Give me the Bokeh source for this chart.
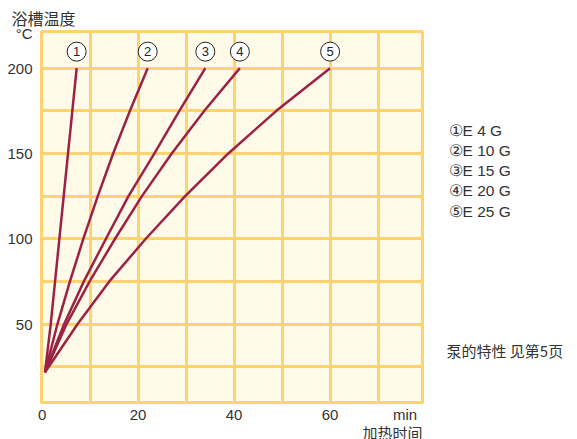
from bokeh.plotting import figure
from bokeh.models import FixedTicker, Range1d, ColumnDataSource, Title
from bokeh.layouts import row
from bokeh.core.properties import value
from bokeh.embed import file_html
from bokeh.resources import INLINE

# ---- data ----
temps = [21.7, 50, 75, 100, 125, 150, 175, 200]          # bath temperature (°C)
t_e4g = [0.6, 1.8, 2.7, 3.6, 4.5, 5.4, 6.3, 7.2]          # heating time (min)
t_e10g = [0.6, 3.2, 5.8, 8.6, 11.6, 14.8, 18.3, 22.0]
t_e15g = [0.6, 4.6, 8.7, 13.3, 18.0, 23.4, 28.6, 34.0]
t_e20g = [0.6, 5.1, 9.9, 15.2, 20.8, 27.0, 33.8, 41.2]
t_e25g = [0.6, 7.4, 14.0, 21.6, 29.8, 38.8, 48.8, 60.0]
series = [t_e4g, t_e10g, t_e15g, t_e20g, t_e25g]
names = ["E 4 G", "E 10 G", "E 15 G", "E 20 G", "E 25 G"]
marks = ["①", "②", "③", "④", "⑤"]
nums = ["1", "2", "3", "4", "5"]
x_ticks = [0, 20, 40, 60]
y_ticks = [50, 100, 150, 200]
x_grid = [10, 20, 30, 40, 50, 60, 70]
y_grid = [25, 50, 75, 100, 125, 150, 175, 200]
note = "泵的特性 见第5页"

# ---- layout ----
X0, X1 = -0.125, 79.25
Y0, Y1 = 4.0, 221.5
W_MAIN, W_SIDE, H = 430, 147, 439

GRID = "#FFD370"
BG = "#FFFBE8"
CURVE = "#9B2245"
TXT = "#333333"
NUM_FONT = "Liberation Sans"
CJK = "Noto Sans CJK SC"

p = figure(width=W_MAIN, height=H, output_backend="svg", toolbar_location=None,
           title=None, x_range=Range1d(X0, X1), y_range=Range1d(Y0, Y1),
           min_border_left=41, min_border_top=31, min_border_right=8,
           min_border_bottom=35)
p.background_fill_color = BG
p.border_fill_color = "white"
p.outline_line_color = GRID
p.outline_line_width = 3
p.outline_line_alpha = 1

p.xgrid.ticker = FixedTicker(ticks=x_grid)
p.ygrid.ticker = FixedTicker(ticks=y_grid)
for g in (p.xgrid, p.ygrid):
    g.grid_line_color = GRID
    g.grid_line_width = 3
    g.grid_line_alpha = 1

# unit labels sit in the tick-label rows
MIN_AT = 75.6
DEG_AT = 220.2
p.xaxis.ticker = FixedTicker(ticks=x_ticks + [MIN_AT])
p.xaxis.major_label_overrides = {MIN_AT: "min"}
p.yaxis.ticker = FixedTicker(ticks=y_ticks + [DEG_AT])
p.yaxis.major_label_overrides = {DEG_AT: "°C"}
for ax in (p.xaxis, p.yaxis):
    ax.axis_line_color = None
    ax.major_tick_line_color = None
    ax.minor_tick_line_color = None
    ax.major_tick_out = 0
    ax.major_tick_in = 0
    ax.minor_tick_out = 0
    ax.major_label_text_font = NUM_FONT
    ax.major_label_text_font_size = "15px"
    ax.major_label_text_color = TXT
p.xaxis.major_label_standoff = 3
p.xaxis.major_label_text_line_height = 1.0
p.yaxis.major_label_standoff = 9

p.add_layout(Title(text="浴槽温度", align="left", offset=-30, standoff=4,
                   text_font=CJK, text_font_size="16px", text_font_style="normal",
                   text_color=TXT), "above")
t_below = Title(text="加热时间", align="right", offset=0, standoff=0,
                vertical_align="middle", text_font=CJK, text_font_size="15px",
                text_font_style="normal", text_line_height=0.9, text_color=TXT)
try:
    t_below.standoff = -9.5
except Exception:
    pass
p.add_layout(t_below, "below")

for ts in series:
    p.line(ts, temps, line_color=CURVE, line_width=2.5, line_join="round")

ends = [ts[-1] for ts in series]
lab_y = [209.7] * len(ends)
src = ColumnDataSource(dict(x=ends, y=lab_y, t=nums))
p.scatter("x", "y", source=src, marker="circle", size=19, fill_color="white",
          line_color="#222222", line_width=1)
p.text("x", "y", text="t", source=src, text_align="center", text_baseline="middle",
       text_font=value("Liberation Sans"), text_font_size="13px", text_color="#222222")

# ---- side panel with the key ----
s = figure(width=W_SIDE, height=H, output_backend="svg", toolbar_location=None,
           title=None, x_range=Range1d(0, W_SIDE), y_range=Range1d(H, 0),
           min_border=0)
s.axis.visible = False
s.grid.visible = False
s.outline_line_color = None
s.background_fill_color = "white"
s.border_fill_color = "white"

key_x = [18] * len(names)
key_y = [116.7 + 24 * i for i in range(len(names))]
key_t = [m + n for m, n in zip(marks, names)]
s.text(key_x, key_y, text=key_t, text_align="left", text_baseline="middle",
       text_font=value(NUM_FONT), text_font_size="15.5px", text_color=TXT)
s.text([16], [377], text=[note], text_align="left", text_baseline="middle",
       text_font=value(CJK), text_font_size="15px", text_color=TXT)

layout = row(p, s, spacing=0)
open("out.html", "w").write(file_html(layout, INLINE))
